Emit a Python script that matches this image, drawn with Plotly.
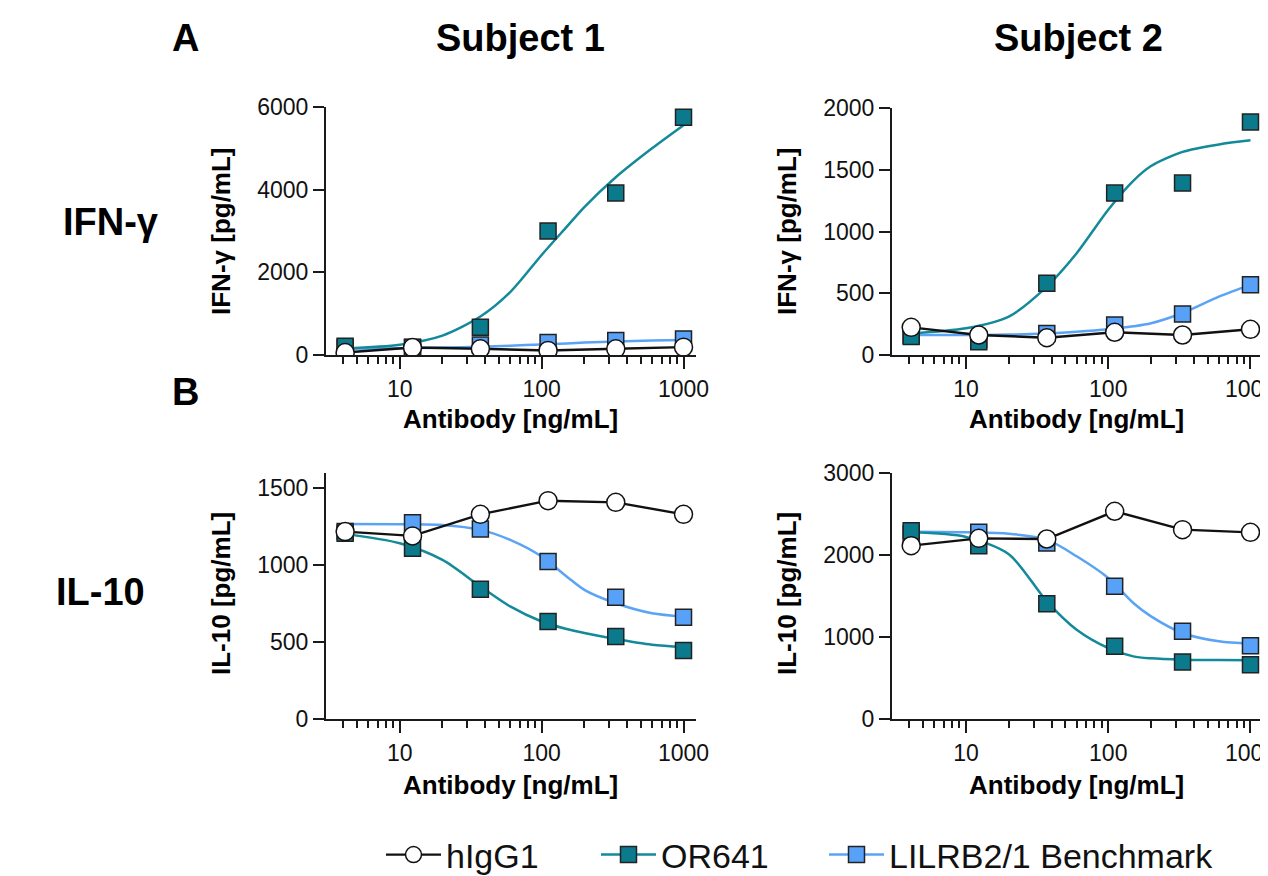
import plotly.graph_objects as go

W, H = 1268, 876
OFF = 8  # the page body adds an 8px margin; positions below are compensated for it

# ---------------- data ----------------
conc = [4.12, 12.3, 37.0, 111.0, 333.0, 1000.0]          # antibody ng/mL
curve_x = [4.12, 10, 20, 37, 60, 100, 150, 200, 333, 600, 1000]

series_names = ["hIgG1", "OR641", "LILRB2/1 Benchmark"]

# Subject 1 IFN-gamma
s1_ifn_higg1 = [60, 180, 150, 110, 150, 190]
s1_ifn_or641 = [210, 180, 670, 3000, 3920, 5750]
s1_ifn_lilrb = [180, 190, 240, 300, 350, 390]
s1_ifn_or641_fit = [160, 250, 470, 930, 1520, 2420, 3100, 3580, 4300, 5000, 5560]
s1_ifn_lilrb_fit = [150, 165, 180, 200, 225, 255, 280, 300, 325, 350, 365]

# Subject 2 IFN-gamma
s2_ifn_higg1 = [224, 162, 140, 184, 162, 208]
s2_ifn_or641 = [149, 108, 581, 1311, 1392, 1887]
s2_ifn_lilrb = [162, 125, 175, 243, 332, 568]
s2_ifn_or641_fit = [175, 216, 311, 554, 824, 1176, 1410, 1530, 1645, 1705, 1738]
s2_ifn_lilrb_fit = [162, 162, 165, 175, 188, 208, 232, 257, 340, 473, 568]

# Subject 1 IL-10
s1_il10_higg1 = [1219, 1191, 1331, 1420, 1409, 1331]
s1_il10_or641 = [1208, 1111, 844, 634, 537, 446]
s1_il10_lilrb = [1220, 1277, 1236, 1024, 792, 662]
s1_il10_or641_fit = [1204, 1143, 1035, 862, 732, 634, 585, 559, 520, 483, 468]
s1_il10_lilrb_fit = [1269, 1267, 1262, 1230, 1165, 1057, 927, 840, 753, 688, 667]

# Subject 2 IL-10
s2_il10_higg1 = [2114, 2203, 2195, 2533, 2309, 2276]
s2_il10_or641 = [2297, 2114, 1406, 886, 695, 663]
s2_il10_lilrb = [2260, 2276, 2146, 1618, 1069, 894]
s2_il10_or641_fit = [2276, 2220, 2010, 1435, 1089, 866, 764, 740, 724, 718, 716]
s2_il10_lilrb_fit = [2285, 2276, 2260, 2187, 1984, 1720, 1415, 1252, 1049, 947, 919]

x_tickvals = [10, 100, 1000]
x_ticktext = ["10", "100", "1000"]
x_minor = [4, 5, 6, 7, 8, 9, 20, 30, 40, 50, 60, 70, 80, 90,
           200, 300, 400, 500, 600, 700, 800, 900]
y_ticks_s1_ifn = [0, 2000, 4000, 6000]
y_ticks_s2_ifn = [0, 500, 1000, 1500, 2000]
y_ticks_s1_il10 = [0, 500, 1000, 1500]
y_ticks_s2_il10 = [0, 1000, 2000, 3000]

# ---------------- style ----------------
C_HIGG = "#111111"
C_OR = "#0b7a8d"
C_OR_LINE = "#138a9a"
C_LI = "#57a2f8"
C_LI_LINE = "#5aa3f5"
EDGE = "#222222"
FONT = "Liberation Sans, Arial, sans-serif"


def px(x):
    return (x - OFF) / W


def py(y):
    return (H - (y - OFF)) / H


fig = go.Figure()

panels = [
    ("x", "y", s1_ifn_higg1, s1_ifn_or641, s1_ifn_lilrb, s1_ifn_or641_fit, s1_ifn_lilrb_fit,
     (326, 696), (355, 107), [0, 6000], y_ticks_s1_ifn),
    ("x2", "y2", s2_ifn_higg1, s2_ifn_or641, s2_ifn_lilrb, s2_ifn_or641_fit, s2_ifn_lilrb_fit,
     (892, 1263), (355, 108), [0, 2000], y_ticks_s2_ifn),
    ("x3", "y3", s1_il10_higg1, s1_il10_or641, s1_il10_lilrb, s1_il10_or641_fit, s1_il10_lilrb_fit,
     (326, 696), (719, 473), [0, 1600], y_ticks_s1_il10),
    ("x4", "y4", s2_il10_higg1, s2_il10_or641, s2_il10_lilrb, s2_il10_or641_fit, s2_il10_lilrb_fit,
     (892, 1263), (719, 473), [0, 3000], y_ticks_s2_il10),
]

legend_ids = ["legend", "legend2", "legend3"]

for i, (xa, ya, hg, orv, li, orfit, lifit, dx, dy, yr, yt) in enumerate(panels):
    fig.add_trace(go.Scatter(x=curve_x, y=lifit, xaxis=xa, yaxis=ya, mode="lines",
                             line=dict(color=C_LI_LINE, width=2.5, shape="spline", smoothing=0.8),
                             showlegend=False, hoverinfo="skip"))
    fig.add_trace(go.Scatter(x=conc, y=li, xaxis=xa, yaxis=ya, mode="markers",
                             marker=dict(symbol="square", size=16, color=C_LI,
                                         line=dict(color=EDGE, width=1.5)),
                             showlegend=False, name=series_names[2]))
    fig.add_trace(go.Scatter(x=curve_x, y=orfit, xaxis=xa, yaxis=ya, mode="lines",
                             line=dict(color=C_OR_LINE, width=2.5, shape="spline", smoothing=0.8),
                             showlegend=False, hoverinfo="skip"))
    fig.add_trace(go.Scatter(x=conc, y=orv, xaxis=xa, yaxis=ya, mode="markers",
                             marker=dict(symbol="square", size=16, color=C_OR,
                                         line=dict(color=EDGE, width=1.5)),
                             showlegend=False, name=series_names[1]))
    fig.add_trace(go.Scatter(x=conc, y=hg, xaxis=xa, yaxis=ya, mode="lines+markers",
                             line=dict(color=C_HIGG, width=2.4),
                             marker=dict(symbol="circle", size=18, color="white",
                                         line=dict(color=C_HIGG, width=1.5)),
                             showlegend=False, name=series_names[0]))

    axis_common = dict(showline=True, linecolor="#1a1a1a", linewidth=2, showgrid=False,
                       zeroline=False, ticks="outside", tickcolor="#1a1a1a", tickwidth=1.5,
                       tickfont=dict(family=FONT, size=23, color="#111111"))
    xkey = "xaxis" if xa == "x" else "xaxis" + xa[1:]
    ykey = "yaxis" if ya == "y" else "yaxis" + ya[1:]
    fig.layout[xkey] = dict(axis_common, type="log", range=[0.48, 3.088],
                            domain=[px(dx[0]), px(dx[1])], anchor=ya,
                            tickmode="array", tickvals=x_tickvals, ticktext=x_ticktext,
                            ticklen=12, ticklabeloverflow="allow",
                            minor=dict(tickmode="array", tickvals=x_minor, ticks="outside",
                                       ticklen=7, tickwidth=1.5, tickcolor="#1a1a1a",
                                       showgrid=False))
    fig.layout[ykey] = dict(axis_common, range=yr, domain=[py(dy[0]), py(dy[1])], anchor=xa,
                            tickmode="array", tickvals=yt, ticklen=11)

legend_styles = [
    dict(mode="lines+markers", line=dict(color=C_HIGG, width=2.4),
         marker=dict(symbol="circle", size=18, color="white", line=dict(color=C_HIGG, width=1.5))),
    dict(mode="lines+markers", line=dict(color=C_OR_LINE, width=2.5),
         marker=dict(symbol="square", size=16, color=C_OR, line=dict(color=EDGE, width=1.5))),
    dict(mode="lines+markers", line=dict(color=C_LI_LINE, width=2.5),
         marker=dict(symbol="square", size=16, color=C_LI, line=dict(color=EDGE, width=1.5))),
]
legend_x = [381, 596, 824]
for name, st, lid in zip(series_names, legend_styles, legend_ids):
    fig.add_trace(go.Scatter(x=[None], y=[None], name=name, legend=lid, showlegend=True,
                             xaxis="x", yaxis="y", **st))

leg_common = dict(orientation="h", yanchor="middle", xanchor="left", y=py(855),
                  font=dict(family=FONT, size=34, color="#111111"),
                  bgcolor="rgba(0,0,0,0)", borderwidth=0, itemwidth=55)
fig.update_layout(
    legend=dict(leg_common, x=px(legend_x[0])),
    legend2=dict(leg_common, x=px(legend_x[1])),
    legend3=dict(leg_common, x=px(legend_x[2])),
)

ann = []


def text(t, x, y, size, angle=0, weight="bold"):
    f = dict(family=FONT, color="#000000", size=size, weight=weight)
    ann.append(dict(text=t, x=px(x), y=py(y), xref="paper", yref="paper", showarrow=False,
                    xanchor="center", yanchor="middle", textangle=angle, font=f))


text("A", 186, 38, 38)
text("B", 186, 392, 38)
text("Subject 1", 520, 38, 38)
text("Subject 2", 1078, 38, 38)
text("IFN-γ", 110, 222, 38)
text("IL-10", 100, 592, 38)
text("IFN-γ [pg/mL]", 221, 231, 26, angle=-90)
text("IFN-γ [pg/mL]", 787, 231, 26, angle=-90)
text("IL-10 [pg/mL]", 221, 594, 26, angle=-90)
text("IL-10 [pg/mL]", 787, 594, 26, angle=-90)
text("Antibody [ng/mL]", 510, 419, 26)
text("Antibody [ng/mL]", 1076, 419, 26)
text("Antibody [ng/mL]", 510, 785, 26)
text("Antibody [ng/mL]", 1076, 785, 26)

fig.update_layout(
    width=W, height=H, autosize=False,
    margin=dict(l=0, r=0, t=0, b=0, autoexpand=False),
    paper_bgcolor="white", plot_bgcolor="white",
    annotations=ann,
    font=dict(family=FONT),
)

fig.write_html("out.html")
